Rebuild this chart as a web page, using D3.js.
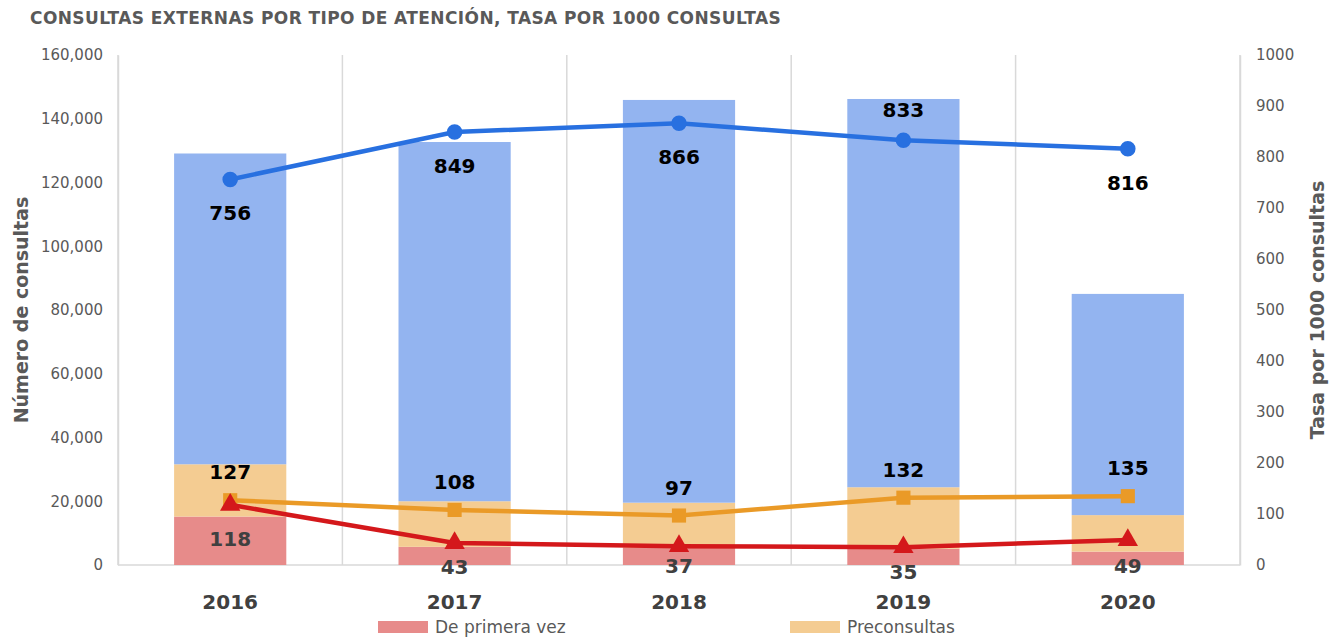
<!DOCTYPE html>
<html>
<head>
<meta charset="utf-8">
<script src="https://cdn.jsdelivr.net/npm/d3@7"></script>
<style>
  body { margin: 0; background: #fff; }
  svg { font-family: "DejaVu Sans", sans-serif; }
</style>
</head>
<body>
<div id="chart"></div>
<script>
var years = ["2016", "2017", "2018", "2019", "2020"];

// consultas por tipo (barras apiladas)
var primeraVez = [15200, 5700, 5400, 5100, 4200];
var preconsultas = [16400, 14300, 14150, 19300, 11450];
var subsecuentes = [97500, 112700, 126350, 121800, 69400];

// tasas por 1000 consultas (lineas)
var tasaSubsecuentes = [756, 849, 866, 833, 816];
var tasaPreconsultas = [127, 108, 97, 132, 135];
var tasaPrimeraVez = [118, 43, 37, 35, 49];

var leftTicks = [0, 20000, 40000, 60000, 80000, 100000, 120000, 140000, 160000];
var rightTicks = [0, 100, 200, 300, 400, 500, 600, 700, 800, 900, 1000];

var width = 1330,
    height = 640,
    margin = {left: 118, right: 90, top: 55, bottom: 75};

var svg = d3.select("#chart").append("svg")
    .attr("width", width).attr("height", height);

var x = d3.scaleBand().domain(years)
    .range([margin.left, width - margin.right]).paddingInner(0).paddingOuter(0);
var yLeft = d3.scaleLinear().domain([0, 160000]).range([height - margin.bottom, margin.top]);
var yRight = d3.scaleLinear().domain([0, 1000]).range([height - margin.bottom, margin.top]);

var gray = "#595959";

// title
svg.append("text").attr("x", 30).attr("y", 24)
    .attr("font-size", 17).attr("font-weight", "bold").attr("fill", gray)
    .attr("letter-spacing", 0.4)
    .text("CONSULTAS EXTERNAS POR TIPO DE ATENCIÓN, TASA POR 1000 CONSULTAS");

// vertical grid lines at category boundaries
var bounds = years.map(function(d) { return x(d); }).concat([x.range()[1]]);
svg.append("g").selectAll("line").data(bounds).enter().append("line")
    .attr("x1", function(d) { return d; }).attr("x2", function(d) { return d; })
    .attr("y1", yLeft(160000)).attr("y2", yLeft(0))
    .attr("stroke", "#d9d9d9").attr("stroke-width", 1.5);

svg.append("line")
    .attr("x1", x.range()[0]).attr("x2", x.range()[1])
    .attr("y1", yLeft(0)).attr("y2", yLeft(0))
    .attr("stroke", "#d9d9d9").attr("stroke-width", 1.5);

// stacked bars
var rows = years.map(function(y, i) {
    return {year: y, primera: primeraVez[i], pre: preconsultas[i], sub: subsecuentes[i]};
});
var keys = ["primera", "pre", "sub"];
var barColors = {primera: "#e78b8a", pre: "#f4cc92", sub: "#93b4f0"};
var stack = d3.stack().keys(keys)(rows);
var barW = x.bandwidth() * 0.5;

svg.append("g").selectAll("g").data(stack).enter().append("g")
    .attr("fill", function(d) { return barColors[d.key]; })
    .selectAll("rect").data(function(d) { return d; }).enter().append("rect")
    .attr("x", function(d) { return x(d.data.year) + (x.bandwidth() - barW) / 2; })
    .attr("width", barW)
    .attr("y", function(d) { return yLeft(d[1]); })
    .attr("height", function(d) { return yLeft(d[0]) - yLeft(d[1]); });

// left axis
var leftAxis = d3.axisLeft(yLeft).tickValues(leftTicks).tickSize(0).tickPadding(15)
    .tickFormat(d3.format(","));
var gl = svg.append("g").attr("transform", "translate(" + margin.left + ",0)").call(leftAxis);
gl.select(".domain").attr("stroke", "#d9d9d9").attr("stroke-width", 1.5);
gl.selectAll("text").attr("font-size", 15).attr("fill", gray)
    .attr("font-family", "DejaVu Sans, sans-serif");

// right axis
var rightAxis = d3.axisRight(yRight).tickValues(rightTicks).tickSize(0).tickPadding(16)
    .tickFormat(d3.format("d"));
var gr = svg.append("g").attr("transform", "translate(" + (width - margin.right) + ",0)").call(rightAxis);
gr.select(".domain").attr("stroke", "#d9d9d9").attr("stroke-width", 1.5);
gr.selectAll("text").attr("font-size", 15).attr("fill", gray)
    .attr("font-family", "DejaVu Sans, sans-serif");

// x labels
var xAxis = d3.axisBottom(x).tickSize(0).tickPadding(30);
var gx = svg.append("g").attr("transform", "translate(0," + yLeft(0) + ")").call(xAxis);
gx.select(".domain").remove();
gx.selectAll("text").attr("font-size", 20).attr("font-weight", "bold").attr("fill", "#404040")
    .attr("font-family", "DejaVu Sans, sans-serif");

// axis titles
svg.append("text")
    .attr("transform", "translate(28," + 310 + ") rotate(-90)")
    .attr("text-anchor", "middle").attr("font-size", 19).attr("font-weight", "bold").attr("fill", gray)
    .text("Número de consultas");
svg.append("text")
    .attr("transform", "translate(1324," + 310 + ") rotate(-90)")
    .attr("text-anchor", "middle").attr("font-size", 19).attr("font-weight", "bold").attr("fill", gray)
    .text("Tasa por 1000 consultas");

// lines
var cx = function(i) { return x(years[i]) + x.bandwidth() / 2; };
var line = d3.line().x(function(d, i) { return cx(i); }).y(function(d) { return yRight(d); });

var series = [
    {vals: tasaSubsecuentes, color: "#2870e0", marker: d3.symbolCircle, size: 190,
     labelColor: "#000", offsets: [34, 34, 34, -30, 34]},
    {vals: tasaPreconsultas, color: "#ea9a27", marker: d3.symbolSquare, size: 200,
     labelColor: "#000", offsets: [-28, -28, -28, -28, -28]},
    {vals: tasaPrimeraVez, color: "#d4181b", marker: d3.symbolTriangle, size: 180,
     labelColor: "#404040", offsets: [34, 24, 20, 25, 26]}
];

series.forEach(function(s) {
    svg.append("path").datum(s.vals)
        .attr("d", line).attr("fill", "none")
        .attr("stroke", s.color).attr("stroke-width", 4.5);
    svg.append("g").selectAll("path").data(s.vals).enter().append("path")
        .attr("d", d3.symbol().type(s.marker).size(s.size))
        .attr("transform", function(d, i) { return "translate(" + cx(i) + "," + yRight(d) + ")"; })
        .attr("fill", s.color);
});

// labels on top of everything
series.forEach(function(s) {
    svg.append("g").selectAll("text").data(s.vals).enter().append("text")
        .attr("x", function(d, i) { return cx(i); })
        .attr("y", function(d, i) { return yRight(d) + s.offsets[i]; })
        .attr("text-anchor", "middle").attr("dy", "0.35em")
        .attr("font-size", 20).attr("font-weight", "bold").attr("fill", s.labelColor)
        .text(function(d) { return d; });
});

// legend
var legend = [
    {name: "De primera vez", color: barColors.primera, x: 378},
    {name: "Preconsultas", color: barColors.pre, x: 790}
];
var lg = svg.append("g").selectAll("g").data(legend).enter().append("g")
    .attr("transform", function(d) { return "translate(" + d.x + ",621)"; });
lg.append("rect").attr("width", 50).attr("height", 12).attr("fill", function(d) { return d.color; });
lg.append("text").attr("x", 57).attr("y", 12).attr("font-size", 17).attr("fill", gray)
    .text(function(d) { return d.name; });
</script>
</body>
</html>
